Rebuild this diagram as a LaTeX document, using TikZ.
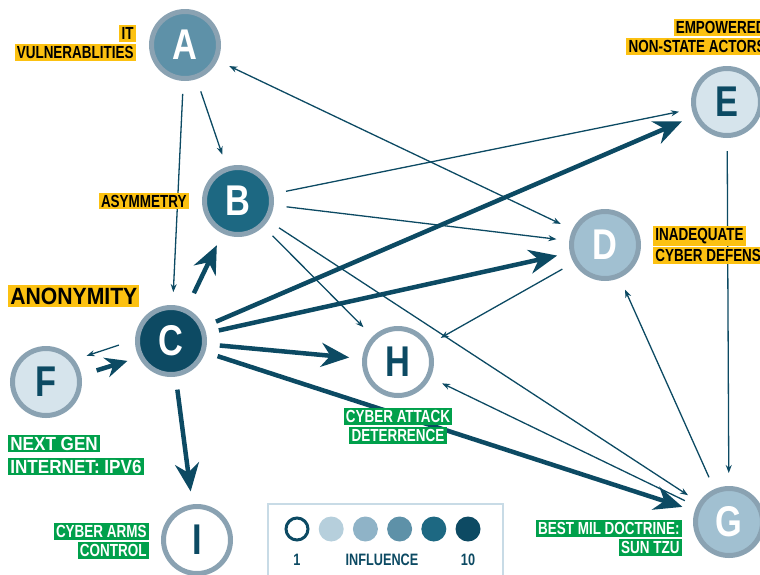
\documentclass[tikz,border=0pt]{standalone}
\usepackage{fontspec}
\usetikzlibrary{arrows.meta}
\newfontfamily\labfont[FakeStretch=0.77]{Liberation Sans}
\newfontfamily\widefont[FakeStretch=0.9]{Liberation Sans}
\newfontfamily\letfont[FakeStretch=0.8]{Liberation Sans}
\definecolor{ink}{RGB}{12,74,99}
\definecolor{ring}{RGB}{138,162,178}
\definecolor{nivA}{RGB}{182,207,220}
\definecolor{nivB}{RGB}{143,179,199}
\definecolor{nivC}{RGB}{94,145,168}
\definecolor{nivD}{RGB}{29,104,130}
\definecolor{nivE}{RGB}{13,74,99}
\definecolor{lightfill}{RGB}{214,228,236}
\definecolor{midfill}{RGB}{161,192,209}
\definecolor{hlyellow}{RGB}{252,193,17}
\definecolor{hlgreen}{RGB}{0,160,75}
\definecolor{legline}{RGB}{200,219,230}
\newcommand{\hly}[1]{\colorbox{hlyellow}{\textcolor{black}{#1}}}
\newcommand{\hlg}[1]{\colorbox{hlgreen}{\textcolor{white}{#1}}}
\setlength{\fboxsep}{2.2pt}
\tikzset{
  >={Stealth[length=8pt,width=6pt]},
  factor/.style={circle, draw=ring, line width=5pt, minimum size=67pt, inner sep=0pt,
    font=\letfont\bfseries\fontsize{43}{43}\selectfont},
  lab/.style={inner sep=0pt, font=\labfont\bfseries\fontsize{17.5}{18.5}\selectfont},
  infl/.style={draw=ink, line width=1.3pt, ->, shorten >=13pt, shorten <=13pt},
  strong/.style={draw=ink, line width=4.5pt, -{Stealth[length=28pt,width=24pt]},
    shorten >=13pt, shorten <=13pt},
  dot/.style={circle, inner sep=0pt, minimum size=25pt},
  legtxt/.style={text=ink, font=\labfont\bfseries\fontsize{16.5}{18}\selectfont}
}

\begin{document}
\begin{tikzpicture}[x=1pt, y=-1pt]
        \useasboundingbox (0,0) rectangle (760,574);
        %factores
        \node[factor, fill=nivC, text=white] (A) at (185,45) {A};
        \node[factor, fill=nivD, text=white] (B) at (238,201) {B};
        \node[factor, fill=nivE, text=white] (C) at (171,341) {C};
        \node[factor, fill=midfill, text=white] (D) at (605,245) {D};
        \node[factor, fill=lightfill, text=ink] (E) at (727,102) {E};
        \node[factor, fill=lightfill, text=ink] (F) at (46,382) {F};
        \node[factor, fill=midfill, text=white] (G) at (729,522) {G};
        \node[factor, fill=white, text=ink] (H) at (398,362) {H};
        \node[factor, fill=white, text=ink] (I) at (197,540) {I};
        %influencias debiles
        \draw[infl] (A) -- (C);
        \draw[infl] (A) -- (B);
        \draw[infl, <->] (A) -- (D);
        \draw[infl] (B) -- (E);
        \draw[infl] (B) -- (D);
        \draw[infl] (B) -- (H);
        \draw[infl] (B) -- (G);
        \draw[infl] (D) -- (H);
        \draw[infl] (G) -- (D);
        \draw[infl] (G) -- (H);
        \draw[infl] (E) -- (G);
        \draw[infl, shorten <=17pt, shorten >=13pt] (C.178) -- (F.38);
        %influencias fuertes
        \draw[strong, -{Stealth[length=22pt,width=20pt]}, shorten <=16pt, shorten >=12pt] (F.11) -- (C.207);
        \draw[strong, shorten <=17pt] (C) -- (B);
        \draw[strong] (C) -- (E);
        \draw[strong] (C) -- (D);
        \draw[strong] (C) -- (H);
        \draw[strong] (C) -- (G);
        \draw[strong] (C) -- (I);
        %etiquetas
        \node[lab, anchor=east, align=right] (labA) at (136,43) {\hly{IT}\\\hly{VULNERABLITIES}};
        \node[lab, anchor=east] (labB) at (189,201) {\hly{ASYMMETRY}};
        \node[lab, anchor=west, font=\widefont\bfseries\fontsize{23.5}{24}\selectfont] (labC) at (8,296) {\hly{ANONYMITY}};
        \node[lab, anchor=east, align=right] (labE) at (768,37) {\hly{EMPOWERED}\\\hly{NON-STATE ACTORS}};
        \node[lab, anchor=west, align=left] (labD) at (653,245) {\hly{INADEQUATE}\\\hly{CYBER DEFENSE}};
        \node[lab, anchor=west, align=left, font=\widefont\bfseries\fontsize{19}{23}\selectfont] (labF) at (8,455) {\hlg{NEXT GEN}\\\hlg{INTERNET: IPV6}};
        \node[lab, align=center] (labH) at (398,426) {\hlg{CYBER ATTACK}\\\hlg{DETERRENCE}};
        \node[lab, anchor=east, align=right] (labI) at (149,541) {\hlg{CYBER ARMS}\\\hlg{CONTROL}};
        \node[lab, anchor=east, align=right] (labG) at (682,538) {\hlg{BEST MIL DOCTRINE:}\\\hlg{SUN TZU}};
        %leyenda
        \draw[legline, line width=1.5pt] (268,504) rectangle (503,590);
        \node[dot, draw=ink, line width=3pt, fill=white, minimum size=22pt] (niv1) at (297,529) {};
        \foreach \i/\c in {2/nivA,3/nivB,4/nivC,5/nivD,6/nivE}
          \node[dot, fill=\c] (niv\i) at (297+34.2*\i-34.2,529) {};
        \node[legtxt] (lo) at (297,560) {1};
        \node[legtxt] (mid) at (382,560) {INFLUENCE};
        \node[legtxt] (hi) at (468,560) {10};
\end{tikzpicture}
\end{document}
